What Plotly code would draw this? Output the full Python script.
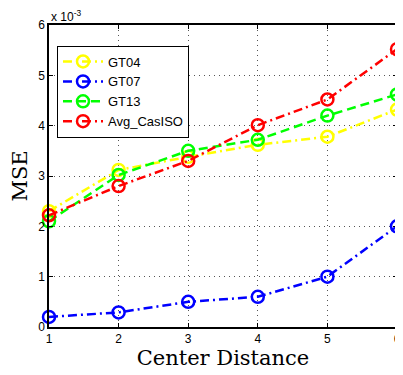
import plotly.graph_objects as go

center_distance = [1, 2, 3, 4, 5, 6]
# MSE values in units of 1e-3
gt04 = [2.30, 3.12, 3.38, 3.62, 3.78, 4.32]
gt07 = [0.20, 0.29, 0.50, 0.60, 1.00, 2.00]
gt13 = [2.10, 3.02, 3.50, 3.72, 4.20, 4.62]
avg_casiso = [2.22, 2.80, 3.30, 4.01, 4.52, 5.52]

series = [
    ("GT04", gt04, "#FFFF00", "9px,4px,2px,4px"),
    ("GT07", gt07, "#0000FF", "9px,4px,2px,4px"),
    ("GT13", gt13, "#00FF00", "9px,5px"),
    ("Avg_CasISO", avg_casiso, "#FF0000", "9px,4px,2px,4px"),
]

fig = go.Figure()
for name, ys, color, dash in series:
    fig.add_trace(go.Scatter(
        x=center_distance, y=ys, name=name, mode="lines+markers",
        line=dict(color=color, width=2.5, dash=dash),
        marker=dict(symbol="circle-open", size=12, color=color,
                    line=dict(width=2.5, color=color)),
        cliponaxis=False,
    ))

axis_common = dict(
    showline=True, linecolor="black", linewidth=1.5, mirror="ticks",
    ticks="inside", ticklen=4, tickcolor="black",
    showgrid=True, gridcolor="#555555", griddash="1px,4px", gridwidth=1,
    zeroline=False, ticklabeloverflow="allow",
    tickfont=dict(family="Liberation Sans, Arial", size=12, color="black"),
)

# page body has an 8px default margin, so the figure is sized to fill the rest
fig.update_layout(
    width=395, height=367,
    margin=dict(l=41, r=2, t=17, b=48),
    paper_bgcolor="white", plot_bgcolor="white",
    xaxis=dict(range=[1, 6], tickvals=[1, 2, 3, 4, 5, 6],
               title=dict(text="Center Distance", standoff=2,
                          font=dict(family="DejaVu Serif", size=21, color="black")),
               **axis_common),
    yaxis=dict(range=[0, 6], tickvals=[0, 1, 2, 3, 4, 5, 6],
               title=dict(text="MSE", standoff=8,
                          font=dict(family="DejaVu Serif", size=21, color="black")),
               **axis_common),
    legend=dict(x=0.023, y=0.932, xanchor="left", yanchor="top",
                bgcolor="white", bordercolor="black", borderwidth=1,
                font=dict(family="Liberation Sans, Arial", size=13, color="black"),
                itemwidth=40, tracegroupgap=0),
    showlegend=True,
    annotations=[dict(text="x 10<sup>-3</sup>", xref="paper", yref="paper",
                      x=0, y=1.0, xanchor="left", yanchor="bottom", showarrow=False,
                      font=dict(family="Liberation Sans, Arial", size=12, color="black"),
                      yshift=-1)],
)

fig.write_html("out.html")
